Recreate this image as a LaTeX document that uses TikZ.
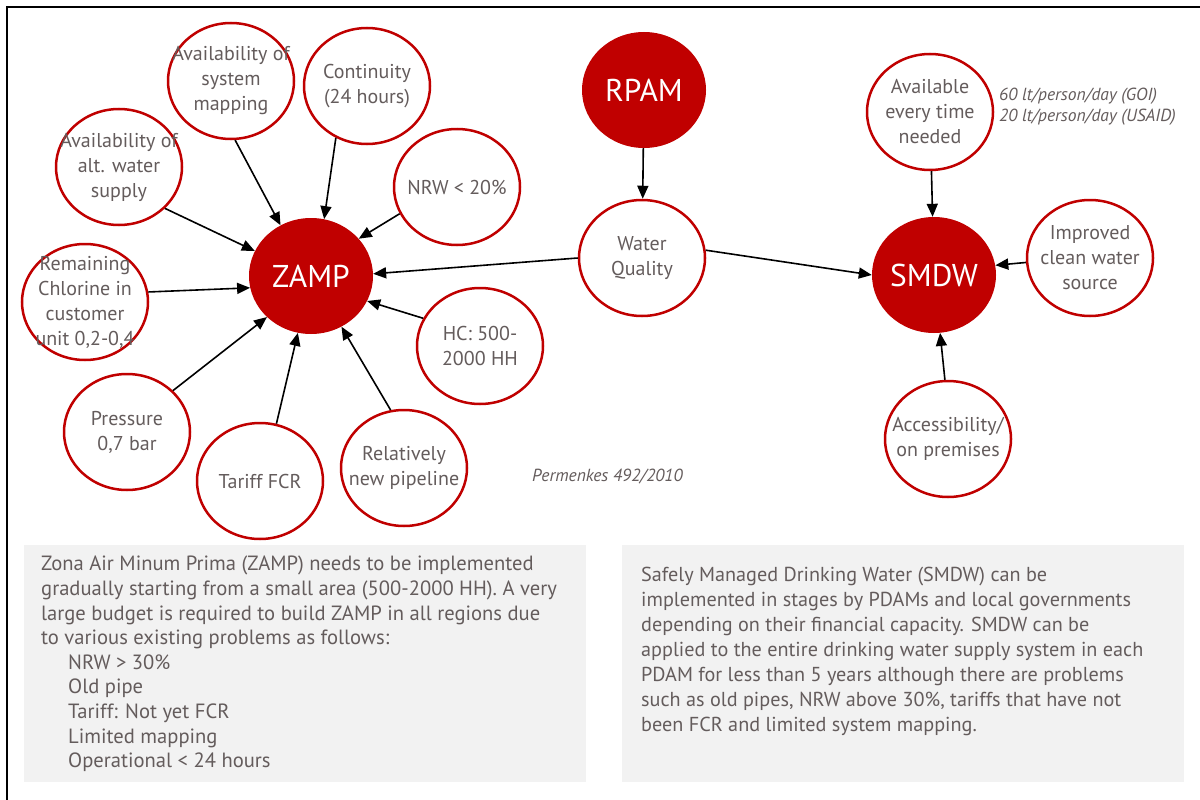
\documentclass[tikz,border=0pt]{standalone}
\usepackage{fontspec}
\setmainfont{PT Sans}
\usetikzlibrary{shapes.geometric,arrows.meta}
\definecolor{zred}{RGB}{192,0,0}
\definecolor{ztext}{RGB}{100,92,92}
\definecolor{zbox}{RGB}{242,242,242}
\tikzset{
  factor/.style={ellipse, draw=zred, line width=2.5pt, fill=white,
    minimum width=126pt, minimum height=116pt, inner sep=0pt},
  ftext/.style={align=center, text=ztext, inner sep=0pt,
    font=\fontsize{20}{25}\selectfont},
  hub/.style={ellipse, fill=zred, minimum width=124pt, minimum height=116pt, inner sep=0pt},
  htext/.style={text=white, inner sep=0pt, font=\fontsize{31.5}{32}\selectfont},
  link/.style={-{Triangle[length=13pt,width=11pt]}, line width=1.6pt, black},
  note/.style={text=ztext, inner sep=0pt, align=left,
    font=\fontsize{17.5}{21}\selectfont\itshape},
  panel/.style={fill=zbox, draw=none},
  paneltext/.style={text=ztext, inner sep=0pt, align=left, anchor=north west}
}
\begin{document}
\begin{tikzpicture}[x=1pt,y=-1pt]
\useasboundingbox (0,0) rectangle (1200,800);
\fill[white] (0,0) rectangle (1200,800);
\draw[line width=2pt, black] (7,800) -- (7,7) -- (1200,7);

% hubs
\node[hub, label={[htext]center:ZAMP}] (zamp) at (311,276) {};
\node[hub, label={[htext]center:RPAM}] (rpam) at (644,90) {};
\node[hub, label={[htext]center:SMDW}] (smdw) at (934,275) {};

% factors around ZAMP
\node[factor, label={[ftext]center:Availability of\\system\\mapping}] (sm) at (231,81) {};
\node[factor, label={[ftext]center:Continuity\\(24 hours)}] (cont) at (367,86) {};
\node[factor, label={[ftext]center:Availability of\\alt. water\\supply}] (alt) at (119,167) {};
\node[factor, label={[ftext]center:NRW < 20\%}] (nrw) at (457,187) {};
\node[factor, label={[ftext]center:Remaining\\Chlorine in\\customer\\unit 0,2-0,4}] (chl) at (85,302) {};
\node[factor, label={[ftext]center:HC: 500-\\2000 HH}] (hc) at (480,346) {};
\node[factor, label={[ftext]center:Pressure\\0,7 bar}] (pr) at (127,432) {};
\node[factor, label={[ftext]center:Tariff FCR}] (tar) at (260,481) {};
\node[factor, label={[ftext]center:Relatively\\new pipeline}] (pipe) at (404,468) {};

% water quality and SMDW factors
\node[factor, label={[ftext]center:Water\\Quality}] (wq) at (642,258) {};
\node[factor, label={[ftext]center:Available\\every time\\needed}] (avail) at (930,112) {};
\node[factor, label={[ftext]center:Improved\\clean water\\source}] (imp) at (1090,258) {};
\node[factor, label={[ftext]center:Accessibility/\\on premises}] (acc) at (948,439) {};

% notes
\node[note, anchor=west] (goi) at (999,107) {60 lt/person/day (GOI)\\20 lt/person/day (USAID)};
\node[note, anchor=west] (perm) at (532,477) {Permenkes 492/2010};

% connectors
\draw[link] (sm.-86) -- (zamp.121.5);
\draw[link] (cont.-121) -- (zamp.77.5);
\draw[link] (alt.-42.4) -- (zamp.156.3);
\draw[link] (nrw.-155.5) -- (zamp.38.1);
\draw[link] (chl.9.9) -- (zamp.191.8);
\draw[link] (wq.180.9) -- (zamp.2.8);
\draw[link] (hc.154.7) -- (zamp.-24.9);
\draw[link] (pr.42.3) -- (zamp.-137);
\draw[link] (tar.74.6) -- (zamp.-103.8);
\draw[link] (pipe.103.6) -- (zamp.-59.2);
\draw[link] (rpam) -- (wq);
\draw[link] (wq.7.2) -- (smdw.180);
\draw[link] (avail) -- (smdw);
\draw[link] (imp.184.7) -- (smdw.9);
\draw[link] (acc.93.9) -- (smdw.-84);

% panels
\fill[panel] (24,545) rectangle (586,782);
\node[paneltext, font=\fontsize{20.6}{24.6}\selectfont] (ztxt) at (41,556) {Zona Air Minum Prima (ZAMP) needs to be implemented\\
gradually starting from a small area (500-2000 HH). A very\\
large budget is required to build ZAMP in all regions due\\
to various existing problems as follows:\\
\hspace*{27pt}NRW > 30\%\\
\hspace*{27pt}Old pipe\\
\hspace*{27pt}Tariff: Not yet FCR\\
\hspace*{27pt}Limited mapping\\
\hspace*{27pt}Operational < 24 hours};
\fill[panel] (622,545) rectangle (1184,782);
\node[paneltext, font=\fontsize{20.2}{25}\selectfont] (stxt) at (641,567) {Safely Managed Drinking Water (SMDW) can be\\
implemented in stages by PDAMs and local governments\\
depending on their financial capacity. SMDW can be\\
applied to the entire drinking water supply system in each\\
PDAM for less than 5 years although there are problems\\
such as old pipes, NRW above 30\%, tariffs that have not\\
been FCR and limited system mapping.};
\end{tikzpicture}
\end{document}
